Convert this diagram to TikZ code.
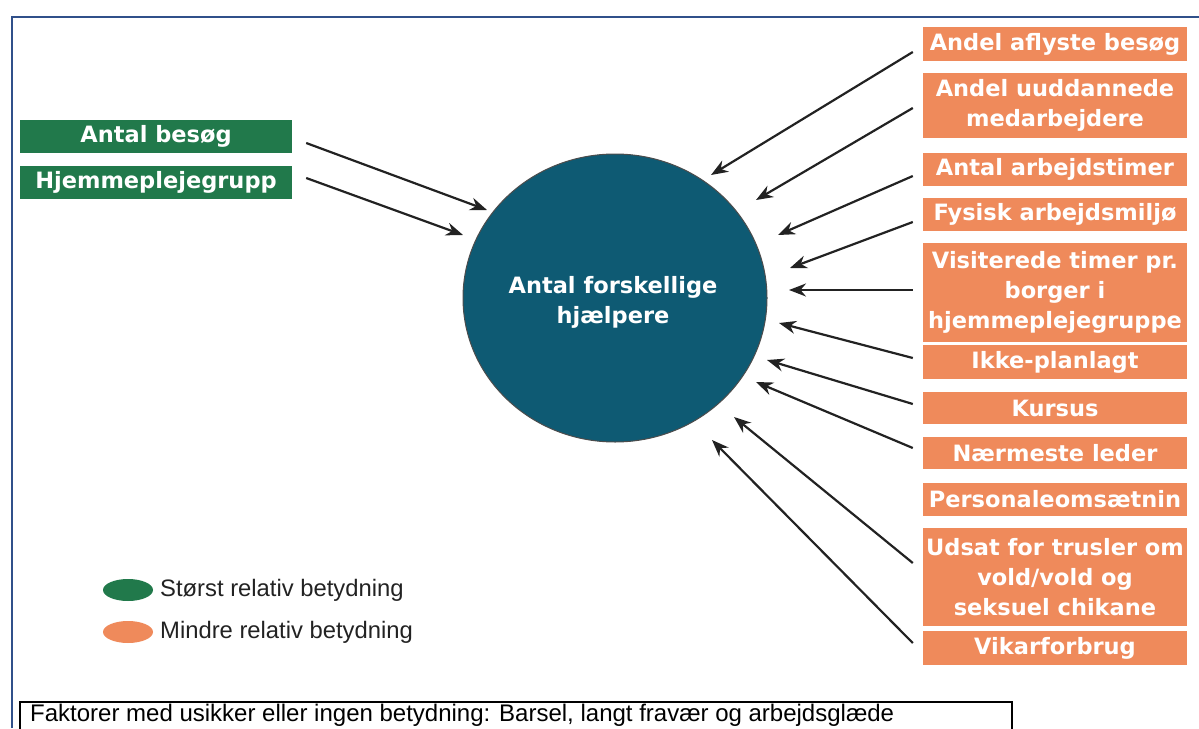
\documentclass[tikz,border=0pt]{standalone}
\usepackage{fontspec}
\setmainfont{DejaVu Sans}
\newfontfamily\legendfont{Liberation Sans}
\usetikzlibrary{shapes.geometric,arrows.meta}
\definecolor{framec}{HTML}{30508A}
\definecolor{greenc}{HTML}{21794B}
\definecolor{orangec}{HTML}{EF8A5B}
\definecolor{circc}{HTML}{0E5A73}
\definecolor{arrc}{HTML}{222222}
\definecolor{legtext}{HTML}{222222}
\tikzset{
  gbox/.style={fill=greenc, text=white, font=\fontsize{22.5}{30}\selectfont\bfseries,
    minimum width=272pt, inner sep=0pt, align=center},
  obox/.style={fill=orangec, text=white, font=\fontsize{22.5}{30}\selectfont\bfseries,
    minimum width=264pt, inner sep=0pt, align=center},
  arr/.style={draw=arrc, line width=2.2pt, -{Stealth[length=17pt,width=13pt]}},
  legdot/.style={ellipse, minimum width=50pt, minimum height=22pt, inner sep=0pt},
  legtxt/.style={anchor=west, text=legtext, inner sep=0pt, font=\legendfont\fontsize{23.8}{28}\selectfont},
}
\begin{document}
\begin{tikzpicture}[x=1pt,y=-1pt]
\useasboundingbox (0,0) rectangle (1199,728);
\clip (0,0) rectangle (1199,728);
% frame
\draw[framec, line width=2pt] (12,728) -- (12,17) -- (1199,17);
% centre
\node[ellipse, fill=circc, draw=black!70, line width=1pt, minimum width=304pt, minimum height=288pt, inner sep=0pt] (circ) at (615,298) {};
\node[text=white, font=\fontsize{22.5}{30}\selectfont\bfseries, align=center, inner sep=0pt] (ctext) at (613,302) {Antal forskellige\\hjælpere};
% green boxes
\node[gbox, minimum height=33pt] (g1) at (156,136.5) {Antal besøg};
\node[gbox, minimum height=33pt] (g2) at (156,182.5) {Hjemmeplejegrupp};
% orange boxes
\node[obox, minimum height=34pt] (o1) at (1055,44) {Andel aflyste besøg};
\node[obox, minimum height=65pt] (o2) at (1055,105.5) {Andel uuddannede\\medarbejdere};
\node[obox, minimum height=33pt] (o3) at (1055,169.5) {Antal arbejdstimer};
\node[obox, minimum height=33pt] (o4) at (1055,214.5) {Fysisk arbejdsmiljø};
\node[obox, minimum height=99pt] (o5) at (1055,292.5) {Visiterede timer pr.\\borger i\\hjemmeplejegruppe};
\node[obox, minimum height=34pt] (o6) at (1055,362) {Ikke-planlagt};
\node[obox, minimum height=32pt] (o7) at (1055,408) {Kursus};
\node[obox, minimum height=32pt] (o8) at (1055,453) {Nærmeste leder};
\node[obox, minimum height=33pt] (o9) at (1055,499.5) {Personaleomsætnin};
\node[obox, minimum height=98pt] (o10) at (1055,577) {Udsat for trusler om\\vold/vold og\\seksuel chikane};
\node[obox, minimum height=34pt] (o11) at (1055,648) {Vikarforbrug};
% arrow heads
\coordinate (hl1) at (487,210);
\coordinate (hl2) at (463,235);
\coordinate (h1) at (711,175);
\coordinate (h2) at (756,200);
\coordinate (h3) at (778,235);
\coordinate (h4) at (790,268);
\coordinate (h5) at (789,290);
\coordinate (h6) at (779,323);
\coordinate (h7) at (767,360);
\coordinate (h8) at (756,382);
\coordinate (h9) at (734,417);
\coordinate (h10) at (712,440);
% arrows
\draw[arr] ([shift={(14,6.5)}]g1.east) -- (hl1);
\draw[arr] ([shift={(14,-4.5)}]g2.east) -- (hl2);
\draw[arr] ([shift={(-10,8)}]o1.west) -- (h1);
\draw[arr] ([shift={(-10,2.5)}]o2.west) -- (h2);
\draw[arr] ([shift={(-10,6.5)}]o3.west) -- (h3);
\draw[arr] ([shift={(-10,7.5)}]o4.west) -- (h4);
\draw[arr] ([shift={(-10,-2.5)}]o5.west) -- (h5);
\draw[arr] ([shift={(-10,-4)}]o6.west) -- (h6);
\draw[arr] ([shift={(-10,-4)}]o7.west) -- (h7);
\draw[arr] ([shift={(-10,-5)}]o8.west) -- (h8);
\draw[arr] ([shift={(-10,-14)}]o10.west) -- (h9);
\draw[arr] ([shift={(-10,-5)}]o11.west) -- (h10);
% legend
\node[legdot, fill=greenc] (lg) at (128,590) {};
\node[legtxt] (lgt) at (160,590) {Størst relativ betydning};
\node[legdot, fill=orangec] (lo) at (128,632) {};
\node[legtxt] (lot) at (160,632) {Mindre relativ betydning};
% bottom box
\draw[black, line width=1.5pt] (20,745) -- (20,702) -- (1012,702) -- (1012,745);
\node[anchor=base west, inner sep=0pt, font=\legendfont\fontsize{24}{28}\selectfont] (bt) at (30,721) {Faktorer med usikker eller ingen betydning: Barsel, langt fravær og arbejdsglæde};
\end{tikzpicture}
\end{document}
